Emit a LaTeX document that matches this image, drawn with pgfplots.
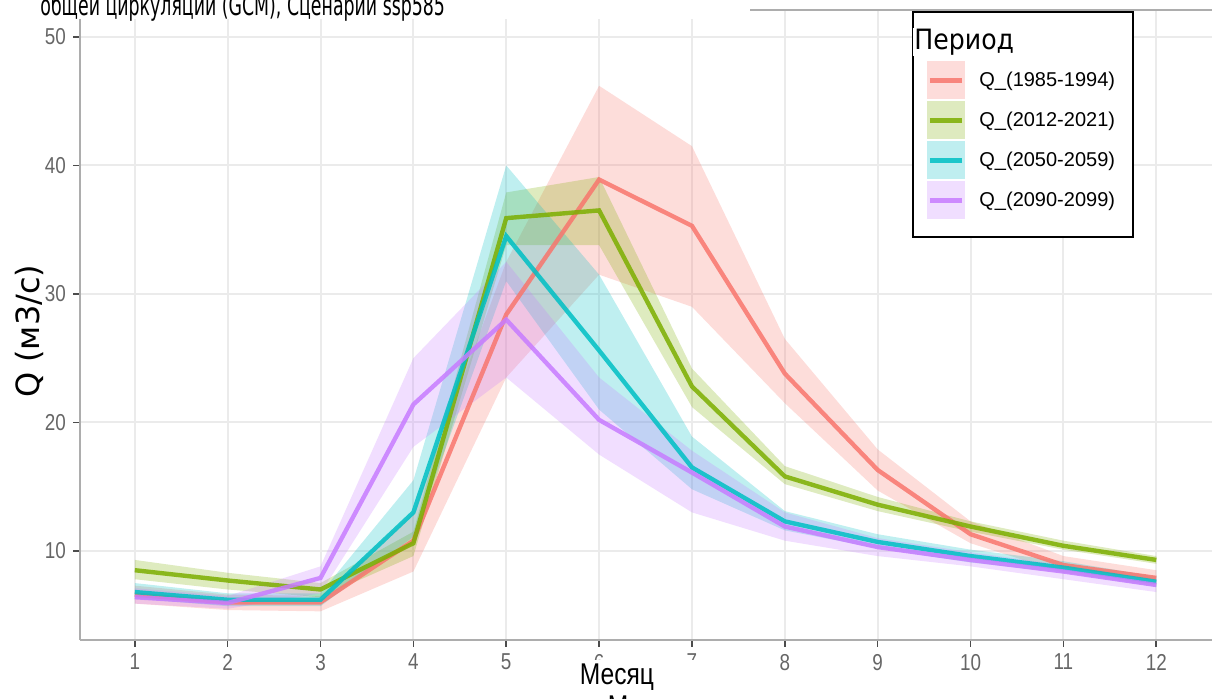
\documentclass[border=0pt]{standalone}
\usepackage{fontspec}
\setmainfont{Liberation Sans}
\newfontfamily\narrowfont[FakeStretch=0.82]{Liberation Sans}
\newfontfamily\gothfont{DejaVu Sans}
\newfontfamily\gothtitle[FakeStretch=0.62]{DejaVu Sans}
\newfontfamily\gothlegend[FakeStretch=0.9]{DejaVu Sans}
\usepackage{pgfplots}
\pgfplotsset{compat=1.18}
\usepackage{pgfplotstable}
\usepgfplotslibrary{fillbetween}

\definecolor{cR}{HTML}{F8766D}
\definecolor{cG}{HTML}{7CAE00}
\definecolor{cB}{HTML}{00BFC4}
\definecolor{cP}{HTML}{C77CFF}
\definecolor{gridc}{HTML}{EBEBEB}
\definecolor{tickc}{HTML}{666666}
\definecolor{axc}{HTML}{ADADAD}

% month, mean, lower, upper
\pgfplotstableread{
m q lo hi
1 6.6 5.9 7.3
2 6.0 5.4 6.6
3 6.0 5.3 6.5
4 10.8 8.4 13.0
5 28.4 23.5 32.5
6 38.9 31.5 46.2
7 35.3 29.0 41.5
8 23.8 21.5 26.5
9 16.3 14.7 17.9
10 11.3 10.6 12.3
11 8.9 8.3 9.6
12 7.9 7.3 8.5
}\tR
\pgfplotstableread{
m q lo hi
1 8.5 7.8 9.3
2 7.7 7.0 8.3
3 7.0 6.4 7.5
4 10.6 9.6 11.5
5 35.9 33.8 37.9
6 36.5 33.8 39.1
7 22.8 21.2 24.2
8 15.8 15.2 16.6
9 13.6 13.1 14.2
10 11.9 11.5 12.3
11 10.4 10.1 10.8
12 9.3 9.0 9.6
}\tG
\pgfplotstableread{
m q lo hi
1 6.8 6.3 7.5
2 6.2 5.7 6.7
3 6.2 5.7 6.7
4 13.0 11.1 15.5
5 34.5 31.0 40.0
6 25.6 21.0 31.5
7 16.5 14.8 18.9
8 12.3 11.6 13.1
9 10.7 10.2 11.3
10 9.6 9.1 10.1
11 8.7 8.3 9.2
12 7.6 7.2 8.0
}\tB
\pgfplotstableread{
m q lo hi
1 6.4 5.9 7.1
2 5.95 5.5 6.5
3 7.9 6.7 8.8
4 21.4 18.1 25.0
5 28.0 23.5 32.5
6 20.2 17.5 23.5
7 16.1 13.0 17.8
8 11.9 10.8 13.0
9 10.3 9.6 11.0
10 9.3 8.8 9.9
11 8.4 7.8 8.9
12 7.35 6.8 7.9
}\tP

\pgfplotsset{
  lkey/.style={legend image code/.code={
    \fill[#1, fill opacity=0.25, draw=none] (0pt,-9.5pt) rectangle (19pt,9.5pt);
    \draw[#1, line width=2.2pt, draw opacity=0.85] (1.5pt,0pt) -- (17.5pt,0pt);}},
  qline/.style={#1, line width=2.2pt, draw opacity=0.85, lkey=#1},
}

\begin{document}
\begin{tikzpicture}
\begin{axis}[
    name=ax, at={(0,0)}, anchor=south west,
    width=566pt, height=315pt, scale only axis,
    xmin=0.41, xmax=12.6, ymin=3.07, ymax=52.1,
    xtick={1,...,12}, ytick={10,20,30,40,50},
    grid=major, major grid style={gridc, line width=1pt},
    axis lines=left, axis line style={axc, line width=1pt, -},
    tick align=outside, major tick length=3.5pt,
    tick style={black!70, line width=0.8pt},
    ticklabel style={font=\narrowfont\fontsize{11.5}{11.5}\selectfont, text=tickc},
    /pgf/number format/assume math mode=true,
    ylabel={Q (м3/с)},
    ylabel style={font=\gothfont\fontsize{16}{16}\selectfont, at={(axis description cs:-0.0442,0.49)}, anchor=center},
    clip=false,
    legend style={at={(axis description cs:0.7478,0.919)}, anchor=north west,
      draw=none, fill=none, inner sep=0pt, row sep=1pt, column sep=6.5pt,
      font=\fontsize{10}{12}\selectfont, nodes={inner sep=0.75pt}},
    legend cell align=left,
]
% lines
\addplot[qline=cR] table[x=m,y=q]{\tR};
\addlegendentry{Q\_(1985-1994)}
\addplot[qline=cG] table[x=m,y=q]{\tG};
\addlegendentry{Q\_(2012-2021)}
\addplot[qline=cB] table[x=m,y=q]{\tB};
\addlegendentry{Q\_(2050-2059)}
\addplot[qline=cP] table[x=m,y=q]{\tP};
\addlegendentry{Q\_(2090-2099)}
% ribbons
\addplot[name path=rHi, draw=none, forget plot] table[x=m,y=hi]{\tR};
\addplot[name path=rLo, draw=none, forget plot] table[x=m,y=lo]{\tR};
\addplot[cR, fill opacity=0.25, draw=none, forget plot] fill between[of=rHi and rLo];
\addplot[name path=gHi, draw=none, forget plot] table[x=m,y=hi]{\tG};
\addplot[name path=gLo, draw=none, forget plot] table[x=m,y=lo]{\tG};
\addplot[cG, fill opacity=0.25, draw=none, forget plot] fill between[of=gHi and gLo];
\addplot[name path=bHi, draw=none, forget plot] table[x=m,y=hi]{\tB};
\addplot[name path=bLo, draw=none, forget plot] table[x=m,y=lo]{\tB};
\addplot[cB, fill opacity=0.25, draw=none, forget plot] fill between[of=bHi and bLo];
\addplot[name path=pHi, draw=none, forget plot] table[x=m,y=hi]{\tP};
\addplot[name path=pLo, draw=none, forget plot] table[x=m,y=lo]{\tP};
\addplot[cP, fill opacity=0.25, draw=none, forget plot] fill between[of=pHi and pLo];
% top border, legend box and title
\draw[axc, line width=1pt] (rel axis cs:0,1) -- (rel axis cs:1,1);
\draw[black, line width=0.6pt, fill=white] (rel axis cs:0.7359,0.6397) rectangle (rel axis cs:0.9302,0.9968);
\node[anchor=west, fill=white, inner sep=0.5pt, font=\gothlegend\fontsize{14}{14}\selectfont]
  at (rel axis cs:0.7359,0.9492) {Период};
\end{axis}
% title strip, cut at the top
\fill[white] (-41pt,310.5pt) rectangle (335pt,345pt);
\node[anchor=base west, inner sep=0pt] at (-20pt,312.3pt)
  {\gothtitle\fontsize{14}{14}\selectfont общей циркуляции (GCM), Сценарий ssp585};
% x label over the tick labels
\fill[white] (245pt,-9.8pt) rectangle (312.5pt,-40pt);
\node[anchor=center, inner sep=0pt] at (268.5pt,-18.5pt)
  {\narrowfont\fontsize{15}{15}\selectfont Месяц};
\node[anchor=north, inner sep=0pt] at (282.5pt,-27.8pt)
  {\narrowfont\fontsize{15}{15}\selectfont Месяц};
\pgfresetboundingbox
\path (-40pt,-29.5pt) rectangle (566pt,320pt);
\end{tikzpicture}
\end{document}
